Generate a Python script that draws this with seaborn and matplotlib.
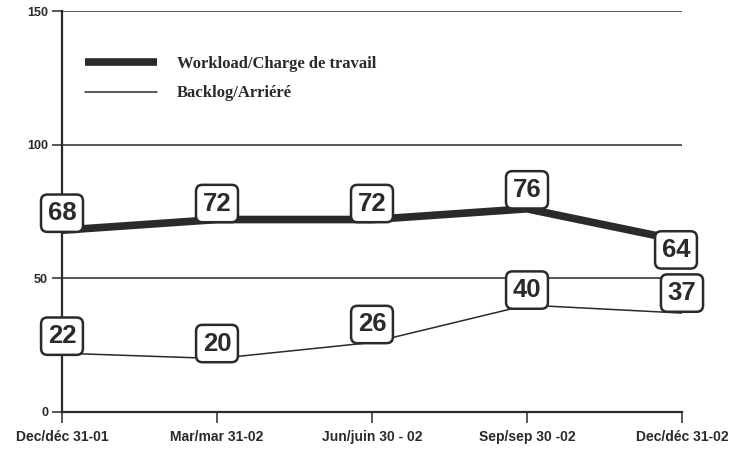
import numpy as np
import matplotlib.pyplot as plt
import seaborn as sns
import pandas as pd

periods = ["Dec/déc 31-01", "Mar/mar 31-02", "Jun/juin 30 - 02", "Sep/sep 30 -02", "Dec/déc 31-02"]
workload = [68, 72, 72, 76, 64]
backlog = [22, 20, 26, 40, 37]
y_ticks = [0, 50, 100, 150]

sns.set_style("white")
plt.rcParams['font.family'] = ['Liberation Sans', 'DejaVu Sans']

df = pd.DataFrame({"pos": np.arange(len(periods)), "Workload": workload, "Backlog": backlog})

fig = plt.figure(figsize=(7.38, 4.55), dpi=100)
ax = fig.add_axes([62 / 738, 43 / 455, 620 / 738, 401 / 455])

ink = "#2a2a2a"
for y in y_ticks[1:]:
    ax.axhline(y, color=ink, lw=1.1, zorder=1)

sns.lineplot(data=df, x="pos", y="Workload", color=ink, lw=5.5, ax=ax,
             label="Workload/Charge de travail", zorder=3, solid_capstyle="butt")
sns.lineplot(data=df, x="pos", y="Backlog", color=ink, lw=1.1, ax=ax,
             label="Backlog/Arriéré", zorder=3)

# label offsets in pixels
w_off = [(0, 17), (0, 16), (0, 16), (0, 19), (-6, -9)]
b_off = [(0, 17), (0, 15), (0, 18), (0, 15), (0, 20)]
box = dict(boxstyle="round,pad=0.26,rounding_size=0.25", fc="white", ec=ink, lw=1.8)
for vals, offs in ((workload, w_off), (backlog, b_off)):
    for i, (v, o) in enumerate(zip(vals, offs)):
        ax.annotate(str(v), (i, v), xytext=o, textcoords="offset pixels",
                    ha="center", va="center", fontsize=18.5, fontweight="bold",
                    color=ink, bbox=box, zorder=5, annotation_clip=False)

ax.set_xlim(0, 4)
ax.set_ylim(0, 150)
ax.set_xticks(range(len(periods)))
ax.set_xticklabels(periods, fontsize=10, fontweight="bold", color=ink)
ax.set_yticks(y_ticks)
ax.set_yticklabels([str(t) for t in y_ticks], fontsize=9, fontweight="bold", color=ink)
ax.set_xlabel("")
ax.set_ylabel("")
ax.tick_params(axis="x", direction="out", length=8, width=1.1, color=ink, pad=5, bottom=True)
ax.tick_params(axis="y", direction="out", length=7, width=1.1, color=ink, pad=3, left=True)
for s in ["top", "right"]:
    ax.spines[s].set_visible(False)
for s in ["left", "bottom"]:
    ax.spines[s].set_color(ink)
    ax.spines[s].set_linewidth(1.6)

leg = ax.legend(loc="upper left", bbox_to_anchor=(0.013, 0.925), frameon=False,
                handlelength=4.3, handletextpad=1.2, labelspacing=0.8,
                prop=dict(family="Liberation Serif", weight="bold", size=12))
for t in leg.get_texts():
    t.set_color(ink)

fig.savefig("out.png", dpi=100)
